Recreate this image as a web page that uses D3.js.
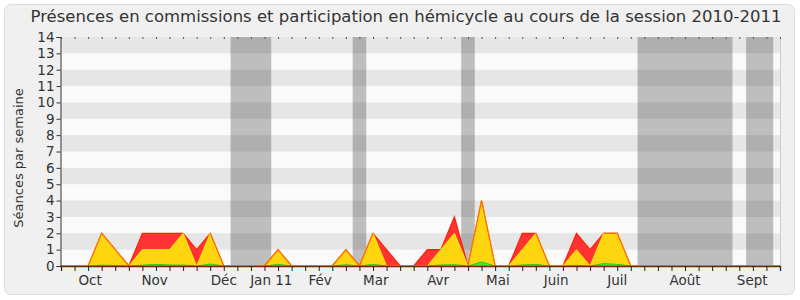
<!DOCTYPE html>
<html>
<head>
<meta charset="utf-8">
<script src="https://cdnjs.cloudflare.com/ajax/libs/d3/7.8.5/d3.min.js"></script>
<style>
  body { margin: 0; background: #ffffff; }
  text { font-family: "DejaVu Sans", sans-serif; fill: #333333; }
</style>
</head>
<body>
<div id="chart"></div>
<script>
//wrap everything in a self-executing anonymous function
(function(){

  //weekly data, one value per week of the session (week 0 to 53)
  var commissions = [0,0,0,2,1,0,2,2,2,2,1,2,0,0,0,0,1,0,0,0,0,1,0,2,1,0,0,1,1,3,0,4,0,0,2,2,0,0,2,1,2,2,0,0,0,0,0,0,0,0,0,0,0,0];
  var hemicycle   = [0,0,0,2,1,0,1,1,1,2,0,2,0,0,0,0,1,0,0,0,0,1,0,2,0,0,0,0,1,2,0,4,0,0,1,2,0,0,1,0,2,2,0,0,0,0,0,0,0,0,0,0,0,0];
  var interventions = [0,0,0,0.05,0.03,0,0.05,0.1,0.06,0.06,0,0.12,0,0,0,0,0.1,0,0,0,0,0.08,0,0.1,0,0,0,0,0.06,0.08,0,0.25,0,0,0.06,0.1,0,0,0.04,0,0.15,0.1,0,0,0,0,0,0,0,0,0,0,0,0];

  //holiday periods (week index, start / end)
  var vacStart = [12.5, 21.5, 29.5, 42.5, 50.5];
  var vacEnd   = [15.5, 22.5, 30.5, 49.5, 52.5];

  //month labels and their position in weeks
  var monthLabels = ["Oct", "Nov", "Déc", "Jan 11", "Fév", "Mar", "Avr", "Mai", "Juin", "Juil", "Août", "Sept"];
  var monthPos    = [2.15, 6.9, 12.0, 15.5, 19.1, 23.2, 27.8, 32.2, 36.5, 41.0, 46.0, 50.95];

  var yTicks = d3.range(0, 15);

  window.onload = setChart();

  function setChart(){
    var width = 800,
        height = 300,
        left = 61,
        right = 780,
        top = 37,
        bottom = 266;

    var svg = d3.select("#chart")
      .append("svg")
      .attr("width", width)
      .attr("height", height);

    //frame
    svg.append("rect")
      .attr("x", 4.5)
      .attr("y", 4.5)
      .attr("width", 790)
      .attr("height", 290)
      .attr("rx", 6)
      .style("fill", "#f0f0f0")
      .style("stroke", "#dddddd");

    var x = d3.scaleLinear()
      .domain([0, commissions.length - 1])
      .range([left, right]);

    var y = d3.scaleLinear()
      .domain([0, 14])
      .range([bottom, top]);

    //plot background and stripes
    svg.append("rect")
      .attr("x", left)
      .attr("y", top)
      .attr("width", right - left)
      .attr("height", bottom - top)
      .style("fill", "#fafafa");

    svg.selectAll(".stripe")
      .data(yTicks.filter(function(d){ return d % 2 == 1; }))
      .enter()
      .append("rect")
      .attr("class", "stripe")
      .attr("x", left)
      .attr("width", right - left)
      .attr("y", function(d){ return y(d + 1); })
      .attr("height", function(d){ return y(d) - y(d + 1); })
      .style("fill", "#e6e6e6");

    //holiday bands
    svg.selectAll(".vac")
      .data(vacStart)
      .enter()
      .append("rect")
      .attr("class", "vac")
      .attr("x", function(d){ return x(d); })
      .attr("width", function(d, i){ return x(vacEnd[i]) - x(d); })
      .attr("y", top)
      .attr("height", bottom - top)
      .style("fill", "#000000")
      .style("fill-opacity", 0.24);

    //right border
    svg.append("line")
      .attr("x1", right + 0.5).attr("x2", right + 0.5)
      .attr("y1", top).attr("y2", bottom)
      .style("stroke", "#cccccc");

    //areas
    var area = function(values){
      return d3.area()
        .x(function(d, i){ return x(i); })
        .y0(bottom)
        .y1(function(d){ return y(d); })(values);
    };
    var line = function(values){
      return d3.line()
        .x(function(d, i){ return x(i); })
        .y(function(d){ return y(d); })(values);
    };

    svg.append("path").attr("d", area(commissions)).style("fill", "#ff3333");
    svg.append("path").attr("d", line(commissions))
      .style("fill", "none").style("stroke", "#ff2200").style("stroke-width", 1.2);
    svg.append("path").attr("d", area(hemicycle)).style("fill", "#ffd510");
    svg.append("path").attr("d", line(hemicycle))
      .style("fill", "none").style("stroke", "#ffee00").style("stroke-width", 1);
    //where both series are equal the edge is orange
    svg.append("path")
      .attr("d", d3.line()
        .defined(function(d, i){ return d == hemicycle[i] && d > 0 || (d == 0 && (commissions[i-1] > 0 && commissions[i-1] == hemicycle[i-1] || commissions[i+1] > 0 && commissions[i+1] == hemicycle[i+1])); })
        .x(function(d, i){ return x(i); })
        .y(function(d){ return y(d); })(commissions))
      .style("fill", "none").style("stroke", "#ff6a00").style("stroke-width", 1.2);
    svg.append("path").attr("d", area(interventions)).style("fill", "#33ee33");
    svg.append("path").attr("d", line(interventions))
      .style("fill", "none").style("stroke", "#22cc22").style("stroke-width", 1);

    //bottom axis
    var weeks = d3.range(0, commissions.length);
    var xAxis = d3.axisBottom(x)
      .tickValues(weeks)
      .tickSize(5)
      .tickFormat("");
    var gx = svg.append("g")
      .attr("transform", "translate(0," + bottom + ")")
      .call(xAxis);
    gx.select(".domain").style("stroke", "#6e2a10").style("stroke-width", 1.3);
    gx.selectAll(".tick line").style("stroke", "#222222");

    //top ticks
    var gt = svg.append("g")
      .attr("transform", "translate(0," + top + ")")
      .call(d3.axisBottom(x).tickValues(weeks).tickSize(2).tickFormat(""));
    gt.select(".domain").remove();
    gt.selectAll(".tick line").style("stroke", "#555555");

    //month labels
    svg.selectAll(".month")
      .data(monthLabels)
      .enter()
      .append("text")
      .attr("class", "month")
      .attr("x", function(d, i){ return x(monthPos[i]); })
      .attr("y", 285)
      .attr("text-anchor", "middle")
      .style("font-size", "13.5px")
      .text(function(d){ return d; });

    //left axis
    var yAxis = d3.axisLeft(y)
      .tickValues(yTicks)
      .tickSize(4)
      .tickPadding(2);
    var gy = svg.append("g")
      .attr("transform", "translate(" + (left - 0.5) + ",0)")
      .call(yAxis);
    gy.select(".domain").style("stroke", "#333333");
    gy.selectAll(".tick line").style("stroke", "#333333");
    gy.selectAll(".tick text")
      .style("font-size", "13.5px")
      .style("font-family", "DejaVu Sans, sans-serif")
      .style("fill", "#333333");

    //y label
    svg.append("text")
      .attr("transform", "translate(23,158) rotate(-90)")
      .attr("text-anchor", "middle")
      .style("font-size", "13px")
      .text("Séances par semaine");

    //title
    svg.append("text")
      .attr("x", 406)
      .attr("y", 22)
      .attr("text-anchor", "middle")
      .style("font-size", "16.5px")
      .text("Présences en commissions et participation en hémicycle au cours de la session 2010-2011");
  }; //last line of setChart

})();
</script>
</body>
</html>
